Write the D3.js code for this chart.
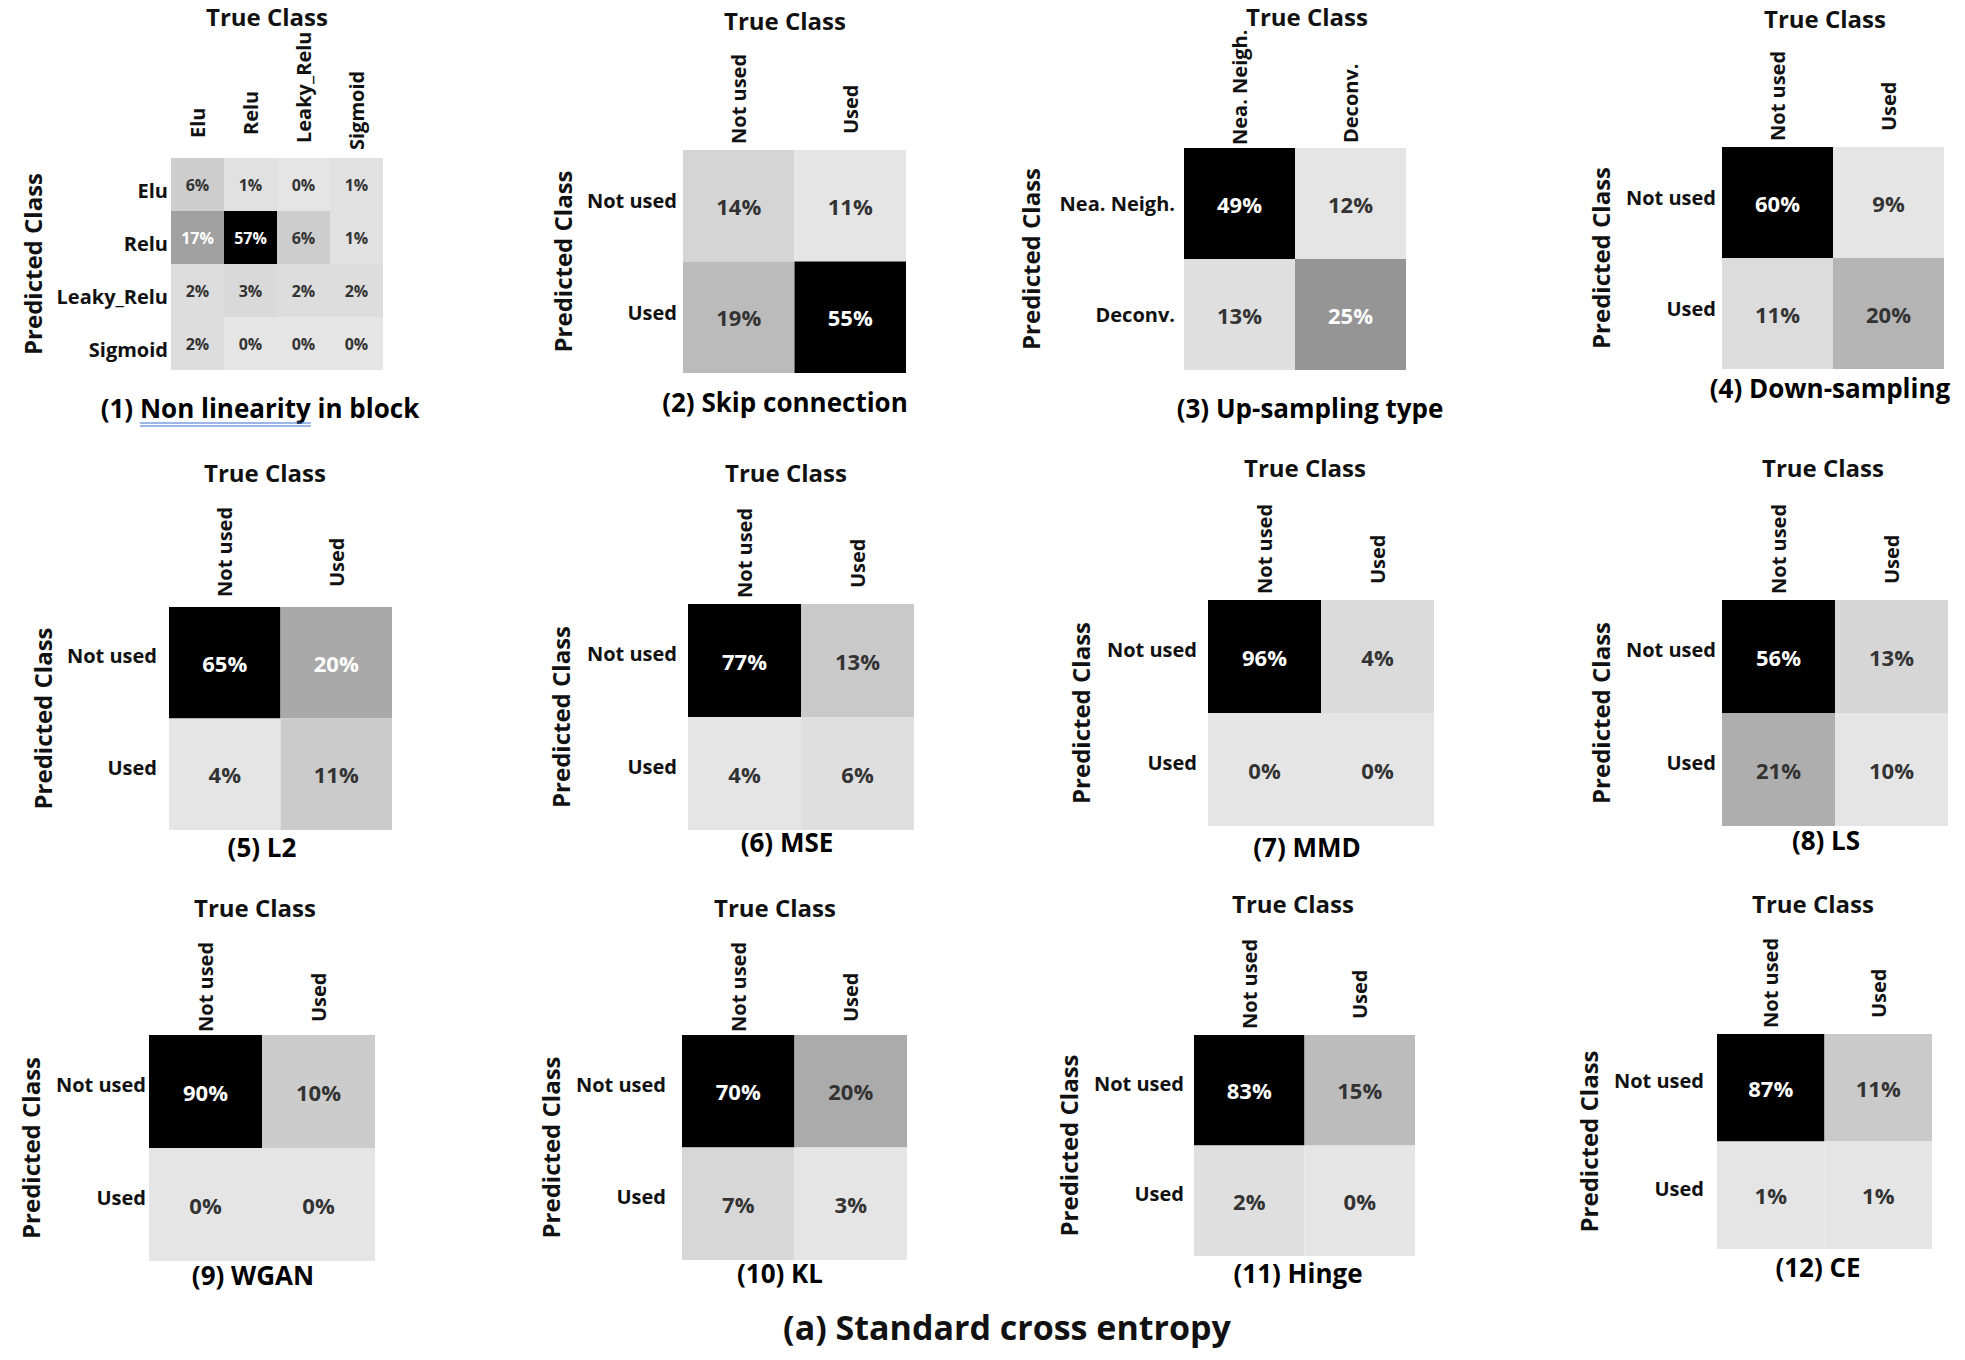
<!DOCTYPE html>
<html>
<head>
<meta charset="utf-8">
<script src="https://cdn.jsdelivr.net/npm/d3@7/dist/d3.min.js"></script>
<style>
  body { margin: 0; background: #fff; }
  text { font-family: "Open Sans", "Noto Sans", sans-serif; }
</style>
</head>
<body>
<svg id="chart" width="1965" height="1360"></svg>
<script>
// class labels
var activationLabels = ["Elu", "Relu", "Leaky_Relu", "Sigmoid"];
var usedLabels = ["Not used", "Used"];
var upsampleLabels = ["Nea. Neigh.", "Deconv."];

// panel captions
var panelTitles = [
  "(1) Non linearity in block", "(2) Skip connection", "(3) Up-sampling type", "(4) Down-sampling",
  "(5) L2", "(6) MSE", "(7) MMD", "(8) LS",
  "(9) WGAN", "(10) KL", "(11) Hinge", "(12) CE"
];
var figureCaption = "(a) Standard cross entropy";

// confusion matrices, rows = predicted, cols = true (percent)
var nonLinearity = [[6, 1, 0, 1], [17, 57, 6, 1], [2, 3, 2, 2], [2, 0, 0, 0]];
var skipConnection = [[14, 11], [19, 55]];
var upSampling = [[49, 12], [13, 25]];
var downSampling = [[60, 9], [11, 20]];
var lossL2 = [[65, 20], [4, 11]];
var lossMSE = [[77, 13], [4, 6]];
var lossMMD = [[96, 4], [0, 0]];
var lossLS = [[56, 13], [21, 10]];
var lossWGAN = [[90, 10], [0, 0]];
var lossKL = [[70, 20], [7, 3]];
var lossHinge = [[83, 15], [2, 0]];
var lossCE = [[87, 11], [1, 1]];

var matrices = [nonLinearity, skipConnection, upSampling, downSampling,
  lossL2, lossMSE, lossMMD, lossLS, lossWGAN, lossKL, lossHinge, lossCE];
var classLabels = [activationLabels, usedLabels, upsampleLabels, usedLabels,
  usedLabels, usedLabels, usedLabels, usedLabels, usedLabels, usedLabels, usedLabels, usedLabels];

// where each small matrix sits on the page
var layout = [
  {gx: 171, gy: 158, gs: 212, tx: 267, ty: 26, sx: 260, sy: 418, px: 32, rr: 168, rs: 6, cell: 16, lift: [20, 23, 15, 8]},
  {gx: 683, gy: 150, gs: 223, tx: 785, ty: 30, sx: 785, sy: 412, px: 562, rr: 677, rs: -5, cell: 22},
  {gx: 1184, gy: 148, gs: 222, tx: 1307, ty: 26, sx: 1310, sy: 418, px: 1030, rr: 1175, rs: 0, cell: 22, lift: [3, 5]},
  {gx: 1722, gy: 147, gs: 222, tx: 1825, ty: 28, sx: 1830, sy: 398, px: 1600, rr: 1716, rs: -5, cell: 22},
  {gx: 169, gy: 607, gs: 223, tx: 265, ty: 482, sx: 262, sy: 857, px: 42, rr: 157, rs: -7, cell: 22, lift: [10, 20]},
  {gx: 688, gy: 604, gs: 226, tx: 786, ty: 482, sx: 787, sy: 852, px: 560, rr: 677, rs: -7, cell: 22},
  {gx: 1208, gy: 600, gs: 226, tx: 1305, ty: 477, sx: 1307, sy: 857, px: 1080, rr: 1197, rs: -7, cell: 22},
  {gx: 1722, gy: 600, gs: 226, tx: 1823, ty: 477, sx: 1826, sy: 850, px: 1600, rr: 1716, rs: -7, cell: 22},
  {gx: 149, gy: 1035, gs: 226, tx: 255, ty: 917, sx: 253, sy: 1285, px: 30, rr: 146, rs: -7, cell: 22, lift: [3, 13]},
  {gx: 682, gy: 1035, gs: 225, tx: 775, ty: 917, sx: 780, sy: 1283, px: 550, rr: 666, rs: -7, cell: 22, lift: [3, 13]},
  {gx: 1194, gy: 1035, gs: 221, tx: 1293, ty: 913, sx: 1298, sy: 1283, px: 1068, rr: 1184, rs: -7, cell: 22},
  {gx: 1717, gy: 1034, gs: 215, tx: 1813, ty: 913, sx: 1818, sy: 1277, px: 1588, rr: 1704, rs: -7, cell: 22}
];

var svg = d3.select("#chart");
svg.append("rect").attr("width", 1965).attr("height", 1360).attr("fill", "#fff");

matrices.forEach(function(m, i) {
  drawMatrix(m, classLabels[i], panelTitles[i], layout[i], i);
});

svg.append("text")
  .attr("x", 1007).attr("y", 1340)
  .attr("text-anchor", "middle")
  .attr("font-size", 34).attr("font-weight", 700).attr("fill", "#111")
  .text(figureCaption);

function drawMatrix(values, labels, title, L, idx) {
  var g = svg.append("g");
  var x = d3.scaleBand().domain(labels).range([L.gx, L.gx + L.gs]);
  var y = d3.scaleBand().domain(labels).range([L.gy, L.gy + L.gs]);

  var flat = d3.merge(values);
  var lo = d3.min(flat), hi = d3.max(flat);
  var shade = d3.scaleLinear().domain([lo, hi]).range([229, 0]);
  var norm = d3.scaleLinear().domain([lo, hi]).range([0, 1]);

  var cells = [];
  values.forEach(function(row, r) {
    row.forEach(function(v, c) {
      cells.push({row: labels[r], col: labels[c], v: v});
    });
  });

  g.selectAll("rect.cell")
    .data(cells)
    .enter().append("rect")
    .attr("class", "cell")
    .attr("x", function(d) { return x(d.col); })
    .attr("y", function(d) { return y(d.row); })
    .attr("width", x.bandwidth())
    .attr("height", y.bandwidth())
    .attr("fill", function(d) { var s = Math.round(shade(d.v)); return d3.rgb(s, s, s); });

  g.selectAll("text.val")
    .data(cells)
    .enter().append("text")
    .attr("class", "val")
    .attr("x", function(d) { return x(d.col) + x.bandwidth() / 2; })
    .attr("y", function(d) { return y(d.row) + y.bandwidth() / 2; })
    .attr("text-anchor", "middle")
    .attr("dominant-baseline", "central")
    .attr("font-size", L.cell)
    .attr("font-weight", 700)
    .attr("fill", function(d) { return norm(d.v) > 0.258 ? "#fff" : "#333"; })
    .text(function(d) { return d.v + "%"; });

  // row labels (predicted)
  g.selectAll("text.rowlab")
    .data(labels)
    .enter().append("text")
    .attr("class", "rowlab")
    .attr("x", L.rr)
    .attr("y", function(d) { return y(d) + y.bandwidth() / 2 + L.rs; })
    .attr("text-anchor", "end")
    .attr("dominant-baseline", "central")
    .attr("font-size", 20).attr("font-weight", 700).attr("fill", "#111")
    .text(function(d) { return d; });

  // column labels (true), rotated
  var lift = L.lift || [6, 16];
  g.selectAll("text.collab")
    .data(labels)
    .enter().append("text")
    .attr("class", "collab")
    .attr("transform", function(d, i) {
      return "translate(" + (x(d) + x.bandwidth() / 2) + "," + (L.gy - lift[i]) + ") rotate(-90)";
    })
    .attr("text-anchor", "start")
    .attr("dominant-baseline", "central")
    .attr("font-size", 20).attr("font-weight", 700).attr("fill", "#111")
    .text(function(d) { return d; });

  g.append("text")
    .attr("x", L.tx).attr("y", L.ty)
    .attr("text-anchor", "middle")
    .attr("font-size", 24).attr("font-weight", 700).attr("fill", "#111")
    .text("True Class");

  g.append("text")
    .attr("transform", "translate(" + L.px + "," + (L.gy + L.gs / 2) + ") rotate(-90)")
    .attr("text-anchor", "middle")
    .attr("dominant-baseline", "central")
    .attr("font-size", 24).attr("font-weight", 700).attr("fill", "#111")
    .text("Predicted Class");

  var sub = g.append("text")
    .attr("x", L.sx).attr("y", L.sy)
    .attr("text-anchor", "middle")
    .attr("font-size", 26).attr("font-weight", 700).attr("fill", "#000")
    .text(title);

  // the first caption carries a blue underline under "Non linearity"
  if (idx === 0) {
    var node = sub.node();
    var start = title.indexOf("Non linearity");
    var x0 = node.getStartPositionOfChar(start).x;
    var w = node.getSubStringLength(start, "Non linearity".length);
    g.append("line")
      .attr("x1", x0).attr("x2", x0 + w)
      .attr("y1", L.sy + 5).attr("y2", L.sy + 5)
      .attr("stroke", "#3b6fd1").attr("stroke-width", 1.2);
    g.append("line")
      .attr("x1", x0).attr("x2", x0 + w)
      .attr("y1", L.sy + 8).attr("y2", L.sy + 8)
      .attr("stroke", "#3b6fd1").attr("stroke-width", 1.2);
  }
}
</script>
</body>
</html>
